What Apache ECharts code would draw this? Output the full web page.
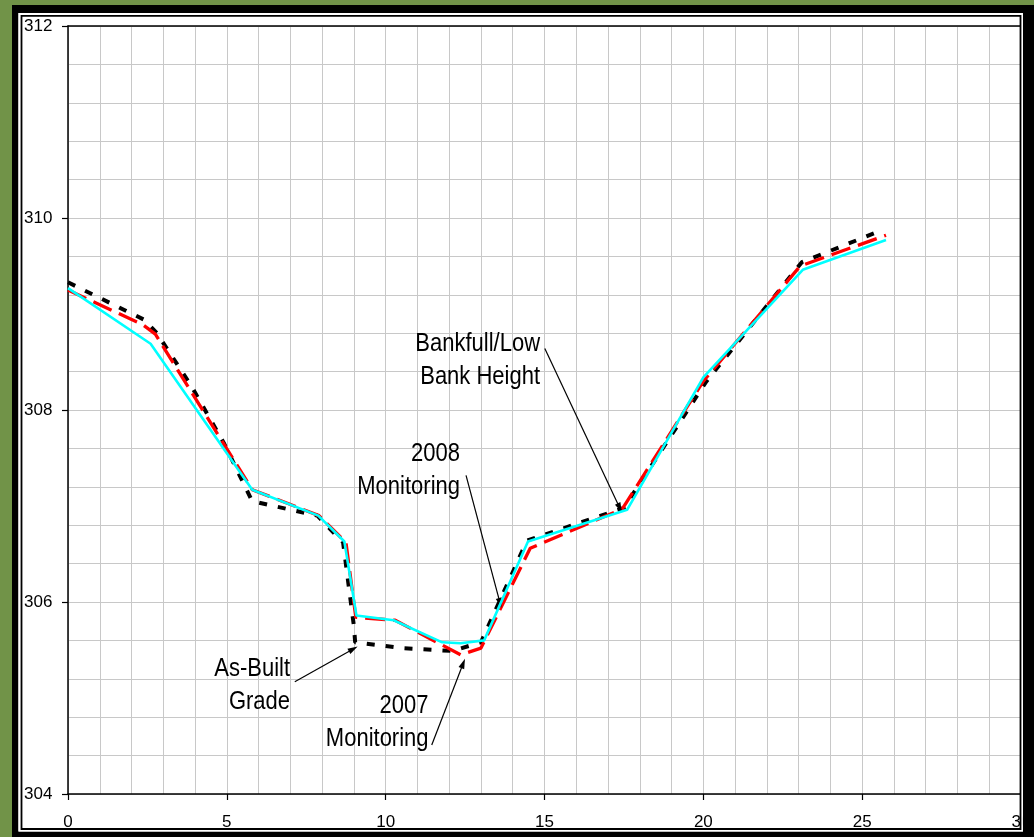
<!DOCTYPE html>
<html>
<head>
<meta charset="utf-8">
<script src="https://cdn.jsdelivr.net/npm/echarts@6/dist/echarts.min.js"></script>
<style>
  html, body { margin: 0; padding: 0; background: #fff; }
  #chart { width: 1034px; height: 837px; }
</style>
</head>
<body>
<div id="chart"></div>
<script>
// axis ranges / labels
var xRange = [0, 30];
var xStep = 5;
var yRange = [304, 312];
var yStep = 2;

// cross section profiles [station, elevation]
var asBuilt = [
  [0, 309.33], [2.4, 308.94], [2.8, 308.8], [3.9, 308.24], [4.9, 307.66],
  [5.8, 307.05], [7.85, 306.9], [8.66, 306.62], [9.0, 305.75], [9.04, 305.58],
  [10.5, 305.52], [12.1, 305.49], [13.0, 305.58], [14.45, 306.64], [17.5, 306.98],
  [20.1, 308.3], [23.1, 309.54], [25.45, 309.85]
];
var mon2007 = [
  [0, 309.25], [2.35, 308.89], [2.75, 308.79], [5.8, 307.17], [7.9, 306.9],
  [8.75, 306.62], [9.06, 305.84], [10.3, 305.81], [12.36, 305.45], [13.0, 305.52],
  [14.55, 306.56], [17.45, 306.97], [20.0, 308.3], [23.05, 309.5], [25.75, 309.82]
];
var mon2008 = [
  [0, 309.27], [2.6, 308.69], [5.8, 307.17], [7.88, 306.9], [8.7, 306.63],
  [9.08, 305.86], [10.25, 305.81], [11.78, 305.58], [12.36, 305.57], [13.1, 305.6],
  [14.48, 306.63], [17.6, 306.96], [20.0, 308.34], [23.13, 309.46], [25.75, 309.77]
];

// callouts: text (right aligned) + arrow, all in data units
var notes = [
  { lines: ['Bankfull/Low', 'Bank Height'], at: [14.86, 308.69], from: [15.01, 308.64], to: [17.37, 306.98] },
  { lines: ['2008', 'Monitoring'], at: [12.34, 307.54], from: [12.53, 307.32], to: [13.6, 305.99] },
  { lines: ['As-Built', 'Grade'], at: [6.99, 305.30], from: [7.14, 305.17], to: [8.98, 305.51] },
  { lines: ['2007', 'Monitoring'], at: [11.35, 304.92], from: [11.45, 304.51], to: [12.44, 305.36] }
];

var FONT = '"Liberation Sans", Arial, sans-serif';
var myChart = echarts.init(document.getElementById('chart'));

var gridLine = { show: true, lineStyle: { color: '#c8c8c8', width: 1 } };

var option = {
  animation: false,
  backgroundColor: '#fff',
  grid: { left: 68, right: 13, top: 26, bottom: 43 },
  xAxis: [
    {
      type: 'value', min: xRange[0], max: xRange[1], interval: xStep,
      axisLine: { show: true, onZero: false, lineStyle: { color: '#000', width: 1.5 } },
      axisTick: { show: true, length: 6, lineStyle: { color: '#000', width: 1.2 } },
      axisLabel: { color: '#000', fontSize: 17, fontFamily: FONT, margin: 20 },
      splitLine: gridLine,
      minorTick: { show: false, splitNumber: 5 },
      minorSplitLine: gridLine
    },
    {
      // top border of plot area
      type: 'value', position: 'top', min: xRange[0], max: xRange[1],
      axisLine: { show: true, onZero: false, lineStyle: { color: '#000', width: 1.5 } },
      axisTick: { show: false }, axisLabel: { show: false }, splitLine: { show: false }
    }
  ],
  yAxis: {
    type: 'value', min: yRange[0], max: yRange[1], interval: yStep,
    axisLine: { show: true, onZero: false, lineStyle: { color: '#000', width: 1.5 } },
    axisTick: { show: true, length: 6, lineStyle: { color: '#000', width: 1.2 } },
    axisLabel: { color: '#000', fontSize: 17, fontFamily: FONT, margin: 44, align: 'left' },
    splitLine: gridLine,
    minorTick: { show: false, splitNumber: 5 },
    minorSplitLine: gridLine
  },
  series: [
    {
      name: 'As-Built', type: 'line', data: asBuilt, showSymbol: false, symbol: 'none',
      lineStyle: { color: '#000', width: 4, type: [8, 11], cap: 'butt' }, z: 3
    },
    {
      name: '2007', type: 'line', data: mon2007, showSymbol: false, symbol: 'none',
      lineStyle: { color: '#ff0000', width: 3.3, type: [20, 8], cap: 'butt' }, z: 4
    },
    {
      name: '2008', type: 'line', data: mon2008, showSymbol: false, symbol: 'none',
      lineStyle: { color: '#00ffff', width: 2.6 }, z: 5,
      markLine: {
        silent: true, symbol: ['none', 'triangle'], symbolSize: [6, 10],
        label: { show: false },
        lineStyle: { color: '#000', width: 1.2, type: 'solid' },
        data: notes.map(function (n) {
          return [{ coord: n.from }, { coord: n.to }];
        })
      }
    }
  ]
};
myChart.setOption(option);

// frame + callout text
var g = [
  { type: 'rect', z: 100, shape: { x: 0, y: 0, width: 12, height: 837 }, style: { fill: '#719348' } },
  { type: 'rect', z: 100, shape: { x: 0, y: 0, width: 1034, height: 5 }, style: { fill: '#719348' } },
  { type: 'rect', z: 100, shape: { x: 12, y: 5, width: 6.5, height: 832 }, style: { fill: '#000' } },
  { type: 'rect', z: 100, shape: { x: 12, y: 5, width: 1022, height: 8 }, style: { fill: '#000' } },
  { type: 'rect', z: 100, shape: { x: 1023, y: 5, width: 11, height: 832 }, style: { fill: '#000' } },
  { type: 'rect', z: 100, shape: { x: 12, y: 831.5, width: 1022, height: 5.5 }, style: { fill: '#000' } },
  { type: 'rect', z: 100, shape: { x: 19.7, y: 14.2, width: 1002, height: 816 }, style: { fill: 'none', stroke: '#fff', lineWidth: 2.5 } },
  { type: 'rect', z: 101, shape: { x: 21.5, y: 15.8, width: 999, height: 813.2 }, style: { fill: 'none', stroke: '#000', lineWidth: 1.8 } }
];
notes.forEach(function (n) {
  var p = myChart.convertToPixel({ xAxisIndex: 0, yAxisIndex: 0 }, n.at);
  n.lines.forEach(function (t, i) {
    // text in the source is slightly stretched vertically
    g.push({
      type: 'text', z: 50,
      x: p[0], y: p[1] + i * 33, scaleY: 1.15,
      style: {
        text: t, x: 0, y: 0, align: 'right', verticalAlign: 'middle',
        font: '22px ' + FONT, fill: '#000'
      }
    });
  });
});
myChart.setOption({ graphic: g });
</script>
</body>
</html>
